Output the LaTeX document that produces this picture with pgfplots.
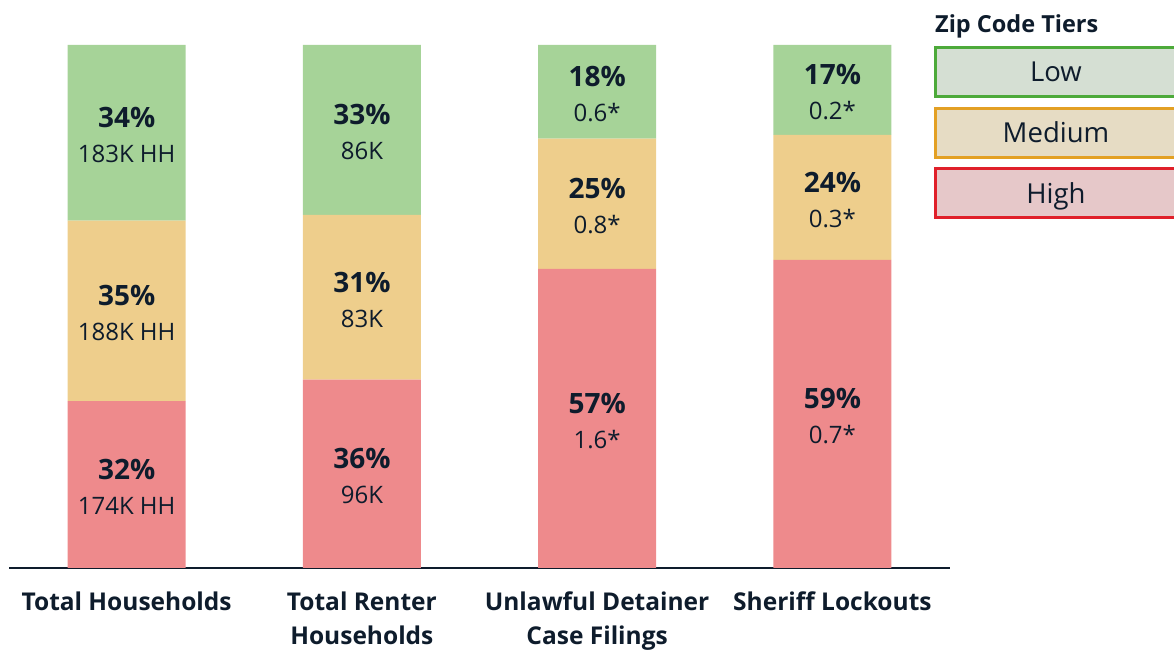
\documentclass[border=0pt]{standalone}
\usepackage{fontspec}
\setmainfont{Open Sans}
\usepackage{pgfplots}
\pgfplotsset{compat=1.18}
\usepackage{pgfplotstable}

\definecolor{lowc}{HTML}{A6D398}
\definecolor{medc}{HTML}{EECE8C}
\definecolor{highc}{HTML}{EE8A8C}
\definecolor{ink}{HTML}{0E1C2C}
\definecolor{lowb}{HTML}{4DAA3A}
\definecolor{lowf}{HTML}{D5DFD3}
\definecolor{medb}{HTML}{E3A024}
\definecolor{medf}{HTML}{E6DCC4}
\definecolor{highb}{HTML}{E0202A}
\definecolor{highf}{HTML}{E6C8C9}

% share of each tier (per cent of the bar)
\pgfplotstableread{
x high med low
0 31.9 34.5 33.6
1 36.0 31.5 32.5
2 57.2 24.9 17.9
3 58.9 23.9 17.2
}\bars

% label positions (segment centres) and texts
\pgfplotstableread{
x y pct val
0 15.95 32\% 174K~HH
0 49.15 35\% 188K~HH
0 83.20 34\% 183K~HH
1 18.00 36\% 96K
1 51.75 31\% 83K
1 83.75 33\% 86K
2 28.60 57\% 1.6*
2 69.65 25\% 0.8*
2 91.05 18\% 0.6*
3 29.45 59\% 0.7*
3 70.85 24\% 0.3*
3 91.40 17\% 0.2*
}\labels

\pgfplotsset{
  common/.style={
    at={(9bp,82bp)}, anchor=south west,
    scale only axis, width=941bp, height=523bp,
    xmin=-0.5, xmax=3.5, ymin=0, ymax=100,
  }
}

\begin{document}
\begin{tikzpicture}[x=1bp,y=1bp]
\useasboundingbox (0,0) rectangle (1174,650);
\begin{axis}[common,
  ybar stacked, bar width=118bp,
  axis x line*=bottom, axis y line=none,
  x axis line style={line width=2bp, ink},
  xtick={0,1,2,3},
  xticklabels={Total Households,{Total Renter\\Households},{Unlawful Detainer\\Case Filings},Sheriff Lockouts},
  xticklabel style={align=center, font=\fontsize{24.5bp}{34bp}\selectfont\bfseries, text=ink, yshift=-20bp},
  major tick length=0pt,
]
\addplot[fill=highc, draw=none] table[x=x, y=high]{\bars};
\addplot[fill=medc, draw=none] table[x=x, y=med]{\bars};
\addplot[fill=lowc, draw=none] table[x=x, y=low]{\bars};
\end{axis}
\begin{axis}[common, hide axis]
\addplot[draw=none, mark=none,
  point meta=explicit symbolic,
  nodes near coords,
  nodes near coords style={anchor=base, text=ink, yshift=5bp,
    font=\fontsize{28bp}{35bp}\selectfont\bfseries},
] table[x=x, y=y, meta=pct]{\labels};
\addplot[draw=none, mark=none,
  point meta=explicit symbolic,
  nodes near coords,
  nodes near coords style={anchor=base, text=ink, yshift=-30bp,
    font=\fontsize{24bp}{35bp}\selectfont},
] table[x=x, y=y, meta=val]{\labels};
\end{axis}
% legend
\node[anchor=base west, text=ink, font=\fontsize{23.5bp}{28bp}\selectfont\bfseries, inner sep=0pt] at (935,617) {Zip Code Tiers};
\draw[line width=3bp, draw=lowb, fill=lowf] (935.5,602.5) rectangle (1177,553.5);
\draw[line width=3bp, draw=medb, fill=medf] (935.5,541.5) rectangle (1177,492.5);
\draw[line width=3bp, draw=highb, fill=highf] (935.5,481) rectangle (1177,432);
\node[anchor=base, text=ink, font=\fontsize{27.5bp}{30bp}\selectfont] at (1056,568) {Low};
\node[anchor=base, text=ink, font=\fontsize{27.5bp}{30bp}\selectfont] at (1056,507) {Medium};
\node[anchor=base, text=ink, font=\fontsize{27.5bp}{30bp}\selectfont] at (1056,446.5) {High};
\end{tikzpicture}
\end{document}
